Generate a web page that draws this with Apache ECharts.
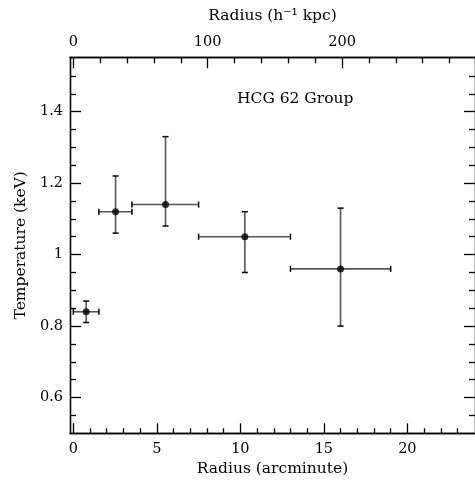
<!DOCTYPE html>
<html>
<head>
<meta charset="utf-8">
<script src="https://cdn.jsdelivr.net/npm/echarts@6/dist/echarts.min.js"></script>
<style>html,body{margin:0;padding:0;background:#fff;}#c{width:475px;height:487px;}</style>
</head>
<body>
<div id="c"></div>
<script>
// Data (radius in arcmin, temperature in keV)
var radius = [0.77, 2.53, 5.52, 10.27, 16.0];
var radiusLo = [0.0, 1.53, 3.51, 7.5, 13.0];
var radiusHi = [1.53, 3.51, 7.5, 13.0, 19.0];
var temp = [0.84, 1.12, 1.14, 1.05, 0.96];
var tempLo = [0.81, 1.06, 1.08, 0.95, 0.80];
var tempHi = [0.87, 1.22, 1.33, 1.12, 1.13];

// Tick labels
var xMajorTicks = [0, 5, 10, 15, 20];
var xMinorTicks = [1,2,3,4,6,7,8,9,11,12,13,14,16,17,18,19,21,22,23];
var kpcMajorTicks = [0, 100, 200];
var kpcMinorTicks = [20,40,60,80,120,140,160,180,220,240,260,280];
var yMajorTicks = [0.6, 0.8, 1.0, 1.2, 1.4];
var yMinorTicks = [0.55,0.65,0.7,0.75,0.85,0.9,0.95,1.05,1.1,1.15,1.25,1.3,1.35,1.45,1.5];

var kpcPerArcmin = 12.43;
var xMin = -0.2, xMax = 24.05;
var yMin = 0.5, yMax = 1.552;

var FONT = 'DejaVu Serif';
var txt = {color:'#000', fontFamily: FONT, fontSize: 14.5};
var nameTxt = {color:'#000', fontFamily: FONT, fontSize: 15.5};

function xAx(pos, min, max, ticks, len, labels, extra, margin) {
  var a = {
    type:'value', position:pos, min:min, max:max,
    splitLine:{show:false},
    axisLine:{show:true, onZero:false, lineStyle:{color:'#000', width:1.3}},
    axisTick:{show:true, inside:true, length:len, customValues:ticks, lineStyle:{color:'#000', width:1.3}},
    axisLabel: labels ? Object.assign({show:true, customValues:ticks, margin:(margin || 7)}, txt) : {show:false}
  };
  return Object.assign(a, extra || {});
}

var errData = radius.map(function(r, i){ return [r, temp[i], radiusLo[i], radiusHi[i], tempLo[i], tempHi[i]]; });
var dotData = radius.map(function(r, i){ return [r, temp[i]]; });

var option = {
  backgroundColor:'#fff',
  animation:false,
  title:{text:'HCG 62 Group', left:232, top:86, textStyle:{color:'#000', fontFamily:FONT, fontSize:15.5, fontWeight:'normal'}},
  grid:{left:70, top:57.3, right:-2, bottom:53.7, show:false},
  xAxis:[
    xAx('bottom', xMin, xMax, xMajorTicks, 10, true, {name:'Radius (arcminute)', nameLocation:'middle', nameGap:26, nameTextStyle:nameTxt}, 8),
    xAx('bottom', xMin, xMax, xMinorTicks, 5, false),
    xAx('top', xMin*kpcPerArcmin, xMax*kpcPerArcmin, kpcMajorTicks, 11, true, {name:'Radius (h⁻¹ kpc)', nameLocation:'middle', nameGap:33, nameTextStyle:nameTxt}, 8),
    xAx('top', xMin*kpcPerArcmin, xMax*kpcPerArcmin, kpcMinorTicks, 6, false)
  ],
  yAxis:[
    xAx('left', yMin, yMax, yMajorTicks, 11, true, {name:'Temperature (keV)', nameLocation:'middle', nameGap:40, nameRotate:90, nameTextStyle:nameTxt}),
    xAx('left', yMin, yMax, yMinorTicks, 6, false),
    xAx('right', yMin, yMax, yMajorTicks, 11, false),
    xAx('right', yMin, yMax, yMinorTicks, 6, false)
  ],
  series:[
    {
      type:'custom', xAxisIndex:0, yAxisIndex:0, data:errData,
      renderItem:function(params, api){
        var c = api.coord([api.value(0), api.value(1)]);
        var l = api.coord([api.value(2), api.value(1)]);
        var r = api.coord([api.value(3), api.value(1)]);
        var b = api.coord([api.value(0), api.value(4)]);
        var t = api.coord([api.value(0), api.value(5)]);
        var st = {stroke:'#555', lineWidth:1.6, fill:null};
        var cap = {stroke:'#000', lineWidth:1.5, fill:null};
        var h = 3, w = 3;
        return {type:'group', children:[
          {type:'line', shape:{x1:l[0], y1:c[1], x2:r[0], y2:c[1]}, style:st},
          {type:'line', shape:{x1:c[0], y1:b[1], x2:c[0], y2:t[1]}, style:st},
          {type:'line', shape:{x1:l[0], y1:c[1]-h, x2:l[0], y2:c[1]+h}, style:cap},
          {type:'line', shape:{x1:r[0], y1:c[1]-h, x2:r[0], y2:c[1]+h}, style:cap},
          {type:'line', shape:{x1:c[0]-w, y1:b[1], x2:c[0]+w, y2:b[1]}, style:cap},
          {type:'line', shape:{x1:c[0]-w, y1:t[1], x2:c[0]+w, y2:t[1]}, style:cap}
        ]};
      },
      z:2
    },
    {type:'scatter', xAxisIndex:0, yAxisIndex:0, data:dotData, symbol:'circle', symbolSize:7, itemStyle:{color:'#000'}, z:3}
  ]
};
var chart = echarts.init(document.getElementById('c'), null, {renderer:'canvas'});
chart.setOption(option);
</script>
</body>
</html>
